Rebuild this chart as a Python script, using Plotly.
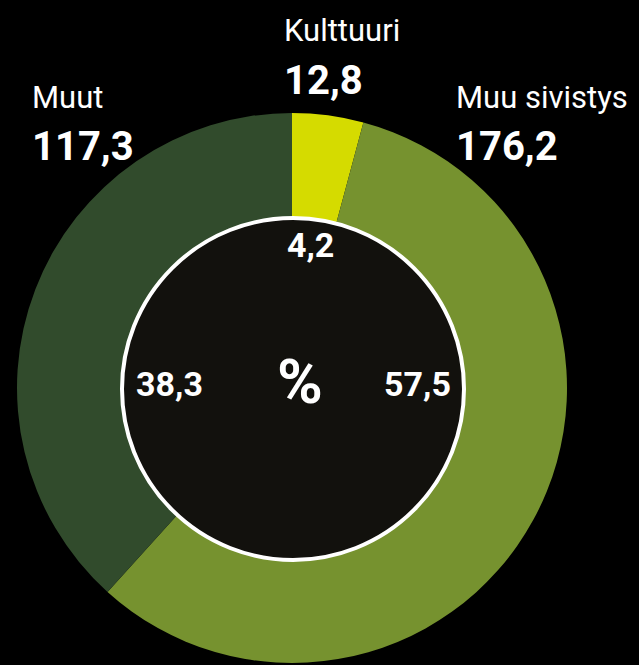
import plotly.graph_objects as go

labels = ["Kulttuuri", "Muu sivistys", "Muut"]
values = [12.8, 176.2, 117.3]
shares = [4.2, 57.5, 38.3]
colors = ["#d5db00", "#76922f", "#314b2c"]

W, H = 639, 665


def fi(v):
    return f"{v:.1f}".replace(".", ",")


def px(x):
    return x / W


def py(y):
    return 1 - y / H


fig = go.Figure()

fig.add_trace(
    go.Pie(
        labels=labels,
        values=values,
        sort=False,
        direction="clockwise",
        rotation=0,
        hole=0.62,
        textinfo="none",
        hoverinfo="label+value",
        marker=dict(colors=colors, line=dict(width=0)),
        domain=dict(x=[px(17), px(567)], y=[py(663), py(113)]),
        showlegend=False,
    )
)

# hole with white rim
cx, cy, r = 293, 389, 171
fig.add_shape(
    type="circle",
    xref="paper",
    yref="paper",
    x0=px(cx - r),
    x1=px(cx + r),
    y0=py(cy + r),
    y1=py(cy - r),
    fillcolor="#12110d",
    line=dict(color="white", width=4),
)

white = "#ffffff"
font = "Roboto, Arial, sans-serif"

# outer labels: name + value
outer = [(282, 31), (454, 97), (30, 97)]
for (x, y), lab, val in zip(outer, labels, values):
    fig.add_annotation(
        x=px(x), y=py(y), xref="paper", yref="paper",
        xanchor="left", yanchor="middle", showarrow=False,
        text=lab, font=dict(family=font, size=31, color=white),
    )
    fig.add_annotation(
        x=px(x), y=py(y + 49), xref="paper", yref="paper",
        xanchor="left", yanchor="middle", showarrow=False,
        text=f"<b>{fi(val)}</b>", font=dict(family=font, size=40, color=white),
    )

# inner percentages
inner = [(310, 245), (417, 384), (169, 384)]
for (x, y), s in zip(inner, shares):
    fig.add_annotation(
        x=px(x), y=py(y), xref="paper", yref="paper",
        xanchor="center", yanchor="middle", showarrow=False,
        text=f"<b>{fi(s)}</b>", font=dict(family=font, size=34, color=white),
    )

fig.add_annotation(
    x=px(300), y=py(382), xref="paper", yref="paper",
    xanchor="center", yanchor="middle", showarrow=False,
    text="<b>%</b>", font=dict(family=font, size=62, color=white),
)

fig.update_layout(
    width=W,
    height=H,
    margin=dict(l=0, r=0, t=0, b=0),
    paper_bgcolor="#000000",
    plot_bgcolor="#000000",
)

fig.write_html(
    "out.html",
    config={"displayModeBar": False},
    post_script="document.body.style.margin='0';document.body.style.background='#000';",
)
